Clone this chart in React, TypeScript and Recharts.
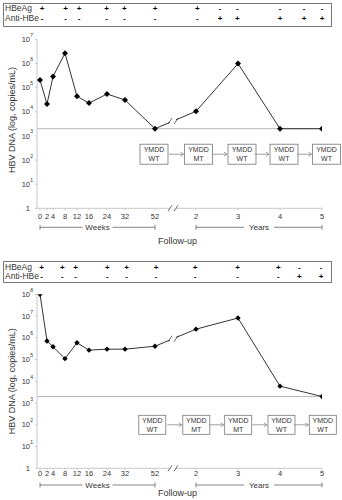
import React from "react";
import { LineChart, Line, XAxis, YAxis, ReferenceLine, ReferenceDot } from "recharts";

const FONT = '"Liberation Sans", Arial, sans-serif';

// time axis: weeks 0..52, then a break, then years 2..5
const timeLabels = ["0", "2", "4", "8", "12", "16", "24", "32", "52", "2", "3", "4", "5"];
const timePos = [0, 7, 13, 25, 37, 49, 67, 85, 115, 156, 198, 240, 282];
const breakPos = 133;
const detectionLimit = 2000;

// HBV DNA, copies/mL
const case1Dna = [2.1e5, 2.1e4, 2.9e5, 2.7e6, 4.4e4, 2.3e4, 5.5e4, 3.1e4, 2e3, 1.05e4, 1e6, 2e3, 2e3];
const case2Dna = [1e8, 7.1e5, 3.9e5, 1.1e5, 5.9e5, 2.7e5, 3e5, 3e5, 4.1e5, 2.5e6, 8.1e6, 6e3, 2e3];

// serology header
const case1HeaderPos = [2, 25.7, 39, 66.7, 84.3, 115, 157.3, 180, 197.3, 240, 264, 282];
const case1HBeAg = ["+", "+", "+", "+", "+", "+", "+", "-", "-", "-", "-", "-"];
const case1AntiHBe = ["-", "-", "-", "-", "-", "-", "-", "+", "+", "+", "+", "+"];
const case2HeaderPos = [1.7, 22.3, 35.7, 67.3, 86.7, 116, 155, 197.7, 238.3, 259.3, 281];
const case2HBeAg = ["+", "+", "+", "+", "+", "+", "+", "+", "+", "-", "-"];
const case2AntiHBe = ["-", "-", "-", "-", "-", "-", "-", "-", "-", "+", "+"];

// YMDD status boxes
const case1BoxPos = [114, 158.5, 202, 244, 286.5];
const case1Ymdd = ["WT", "MT", "WT", "WT", "WT"];
const case2BoxPos = [112.3, 156.3, 198.2, 241.5, 282.8];
const case2Ymdd = ["WT", "MT", "MT", "WT", "WT"];

const ticks7 = [1, 10, 100, 1e3, 1e4, 1e5, 1e6, 1e7];
const ticks8 = [...ticks7, 1e8];

const labelOf = (pos: number) => timeLabels[timePos.indexOf(pos)] ?? "";

function LogTick({ x, y, payload }: any) {
  const v = payload.value;
  const e = Math.round(Math.log10(v));
  if (e === 0) {
    return (
      <text x={x} y={y} dy="0.35em" textAnchor="end" fontSize={7.5} fill="#333" fontFamily={FONT}>1</text>
    );
  }
  return (
    <g>
      <text x={x} y={y} dy="0.35em" textAnchor="end" fontSize={7.5} fill="#333" fontFamily={FONT}>10</text>
      <text x={x + 0.3} y={y - 2.5} textAnchor="start" fontSize={5} fill="#333" fontFamily={FONT}>{e}</text>
    </g>
  );
}

function TimeTick({ x, y, payload }: any) {
  return (
    <text x={x} y={y} dy="0.71em" textAnchor="middle" fontSize={7.5} fill="#333" fontFamily={FONT}>
      {labelOf(payload.value)}
    </text>
  );
}

const diamond = (r: number) => (p: any) => (
  <path
    key={`dm${p.index}`}
    d={`M${p.cx},${p.cy - r}L${p.cx + r},${p.cy}L${p.cx},${p.cy + r}L${p.cx - r},${p.cy}Z`}
    fill="#000"
  />
);

const breakMark = (p: any) => (
  <g>
    <rect x={p.cx - 3} y={p.cy - 4} width={6} height={8} fill="#fff" />
    <line x1={p.cx - 5} y1={p.cy + 3} x2={p.cx - 1} y2={p.cy - 3} stroke="#444" strokeWidth={0.8} />
    <line x1={p.cx + 1} y1={p.cy + 3} x2={p.cx + 5} y2={p.cy - 3} stroke="#444" strokeWidth={0.8} />
  </g>
);

const bracket = (text: string, dy: number) => (p: any) => {
  const y = p.y1 + dy;
  const mid = (p.x1 + p.x2) / 2;
  const half = text.length * 2.4 + 3;
  return (
    <g stroke="#666" strokeWidth={0.8}>
      <line x1={p.x1} y1={y} x2={mid - half} y2={y} />
      <line x1={mid + half} y1={y} x2={p.x2} y2={y} />
      <line x1={p.x1} y1={y - 2.5} x2={p.x1} y2={y + 2.5} />
      <line x1={p.x2} y1={y - 2.5} x2={p.x2} y2={y + 2.5} />
      <text x={mid} y={y} dy="0.35em" textAnchor="middle" fontSize={8} fill="#333" stroke="none" fontFamily={FONT}>
        {text}
      </text>
    </g>
  );
};

const ymddBox = (status: string, w: number, h: number, arrow: boolean) => (p: any) => {
  const left = p.cx - w / 2;
  return (
    <g>
      {arrow && (
        <g stroke="#888" strokeWidth={0.8} fill="none">
          <line x1={left - 15.5} y1={p.cy} x2={left - 1} y2={p.cy} />
          <path d={`M${left - 4},${p.cy - 2}L${left - 1},${p.cy}L${left - 4},${p.cy + 2}`} />
        </g>
      )}
      <rect x={left} y={p.cy - h / 2} width={w} height={h} fill="#fff" stroke="#777" strokeWidth={0.8} />
      <text x={p.cx} y={p.cy - h / 4 + 0.5} dy="0.35em" textAnchor="middle" fontSize={7} fill="#333" fontFamily={FONT}>YMDD</text>
      <text x={p.cx} y={p.cy + h / 4 - 0.5} dy="0.35em" textAnchor="middle" fontSize={7} fill="#333" fontFamily={FONT}>{status}</text>
    </g>
  );
};

interface PanelProps {
  dna: number[];
  yTicks: number[];
  headerPos: number[];
  hbeag: string[];
  anti: string[];
  boxPos: number[];
  ymdd: string[];
  plotTop: number;
  bottomH: number;
  boxTop: number;
  boxBottom: number;
  row1: number;
  row2: number;
  tickGap: number;
  bracketDy: number;
  followDy: number;
  ylabelShift: number;
  boxY: number;
  boxW: number;
  boxH: number;
  markR: number;
}

function Panel(props: PanelProps) {
  const { dna, yTicks, headerPos, hbeag, anti, boxPos, ymdd } = props;
  const data = timePos.map((pos, i) => ({ pos, dna: dna[i] }));
  const yMax = yTicks[yTicks.length - 1];

  // where the straight segment 52w -> 2y crosses the break (log scale)
  const t = (breakPos - timePos[8]) / (timePos[9] - timePos[8]);
  const breakY = Math.pow(10, Math.log10(dna[8]) + t * (Math.log10(dna[9]) - Math.log10(dna[8])));

  const HeaderTick = ({ x, payload }: any) => {
    const i = headerPos.indexOf(payload.value);
    return (
      <g>
        <text x={x} y={props.row1} dy="0.35em" fontSize={8} fontWeight="bold" fill="#000" fontFamily={FONT} textAnchor="middle">
          {hbeag[i]}
        </text>
        <text x={x} y={props.row2} dy="0.35em" fontSize={8} fontWeight="bold" fill="#000" fontFamily={FONT} textAnchor="middle">
          {anti[i]}
        </text>
      </g>
    );
  };

  return (
    <div style={{ position: "relative", width: 342, height: 250 }}>
      <div
        style={{
          position: "absolute",
          left: 3,
          top: props.boxTop,
          width: 329,
          height: props.boxBottom - props.boxTop,
          border: "1px solid #777",
          boxSizing: "border-box",
        }}
      />
      <div style={{ position: "absolute", left: 5, top: props.row1 - 5, fontSize: 8.5, lineHeight: "10px", color: "#333", fontFamily: FONT }}>HBeAg</div>
      <div style={{ position: "absolute", left: 5, top: props.row2 - 5, fontSize: 8.5, lineHeight: "10px", color: "#333", fontFamily: FONT }}>Anti-HBe</div>
      <div style={{ position: "absolute", left: 0, top: 0 }}>
        <LineChart width={342} height={250} data={data} margin={{ top: 0, right: 20, bottom: 0, left: 0 }}>
          <YAxis
            type="number"
            scale="log"
            domain={[1, yMax]}
            ticks={yTicks}
            allowDataOverflow
            width={37}
            interval={0}
            tick={<LogTick />}
            tickSize={2}
            tickMargin={5}
            stroke="#c8c8c8"
            label={{
              value: "HBV DNA (log, copies/mL)",
              content: (lp: any) => {
                const vb = lp.viewBox;
                const cy = vb.y + vb.height / 2 + props.ylabelShift;
                return (
                  <text transform={`translate(12,${cy}) rotate(-90)`} textAnchor="middle" dy="0.35em" fontSize={9} fill="#333" fontFamily={FONT}>
                    HBV DNA (log, copies/mL)
                  </text>
                );
              },
            }}
          />
          <XAxis
            xAxisId="hdr"
            orientation="top"
            type="number"
            dataKey="pos"
            domain={[-3, 282]}
            allowDataOverflow
            ticks={headerPos}
            interval={0}
            height={props.plotTop}
            axisLine={false}
            tickLine={false}
            tick={<HeaderTick />}
          />
          <XAxis
            type="number"
            dataKey="pos"
            domain={[-3, 282]}
            allowDataOverflow
            ticks={timePos}
            interval={0}
            height={props.bottomH}
            tick={<TimeTick />}
            tickSize={2}
            tickMargin={props.tickGap}
            stroke="#c8c8c8"
            label={{
              value: "Follow-up",
              content: (lp: any) => {
                const vb = lp.viewBox;
                return (
                  <text x={vb.x + vb.width / 2 - 2} y={vb.y + props.followDy} dy="0.35em" textAnchor="middle" fontSize={9} fill="#333" fontFamily={FONT}>
                    Follow-up
                  </text>
                );
              },
            }}
          />
          <ReferenceLine y={detectionLimit} stroke="#b8b8b8" strokeWidth={1} />
          <ReferenceLine
            segment={[{ x: timePos[0], y: 1 }, { x: timePos[8], y: 1 }]}
            shape={bracket("Weeks", props.bracketDy)}
          />
          <ReferenceLine
            segment={[{ x: timePos[9], y: 1 }, { x: timePos[12], y: 1 }]}
            shape={bracket("Years", props.bracketDy)}
          />
          {boxPos.map((bx, i) => (
            <ReferenceDot
              key={`box${i}`}
              x={bx}
              y={props.boxY}
              ifOverflow="visible"
              shape={ymddBox(ymdd[i], props.boxW, props.boxH, i > 0)}
            />
          ))}
          <ReferenceDot x={breakPos} y={1} ifOverflow="visible" shape={breakMark} />
          <Line
            type="linear"
            dataKey="dna"
            stroke="#333"
            strokeWidth={1}
            dot={diamond(props.markR)}
            isAnimationActive={false}
          />
          <ReferenceDot x={breakPos} y={breakY} ifOverflow="visible" shape={breakMark} />
        </LineChart>
      </div>
    </div>
  );
}

export default function App() {
  return (
    <div style={{ position: "absolute", left: 0, top: 0, width: 342, height: 500, background: "#fff" }}>
      <Panel
        dna={case1Dna}
        yTicks={ticks7}
        headerPos={case1HeaderPos}
        hbeag={case1HBeAg}
        anti={case1AntiHBe}
        boxPos={case1BoxPos}
        ymdd={case1Ymdd}
        plotTop={39.5}
        bottomH={41.7}
        boxTop={2.5}
        boxBottom={26.5}
        row1={8.3}
        row2={18.3}
        tickGap={3.5}
        bracketDy={19}
        followDy={32.7}
        ylabelShift={-4}
        boxY={175}
        boxW={28}
        boxH={20}
        markR={3}
      />
      <Panel
        dna={case2Dna}
        yTicks={ticks8}
        headerPos={case2HeaderPos}
        hbeag={case2HBeAg}
        anti={case2AntiHBe}
        boxPos={case2BoxPos}
        ymdd={case2Ymdd}
        plotTop={44.3}
        bottomH={31.7}
        boxTop={11}
        boxBottom={33}
        row1={17.3}
        row2={26}
        tickGap={0.5}
        bracketDy={16.7}
        followDy={25}
        ylabelShift={0}
        boxY={100}
        boxW={27}
        boxH={19}
        markR={2.7}
      />
    </div>
  );
}
